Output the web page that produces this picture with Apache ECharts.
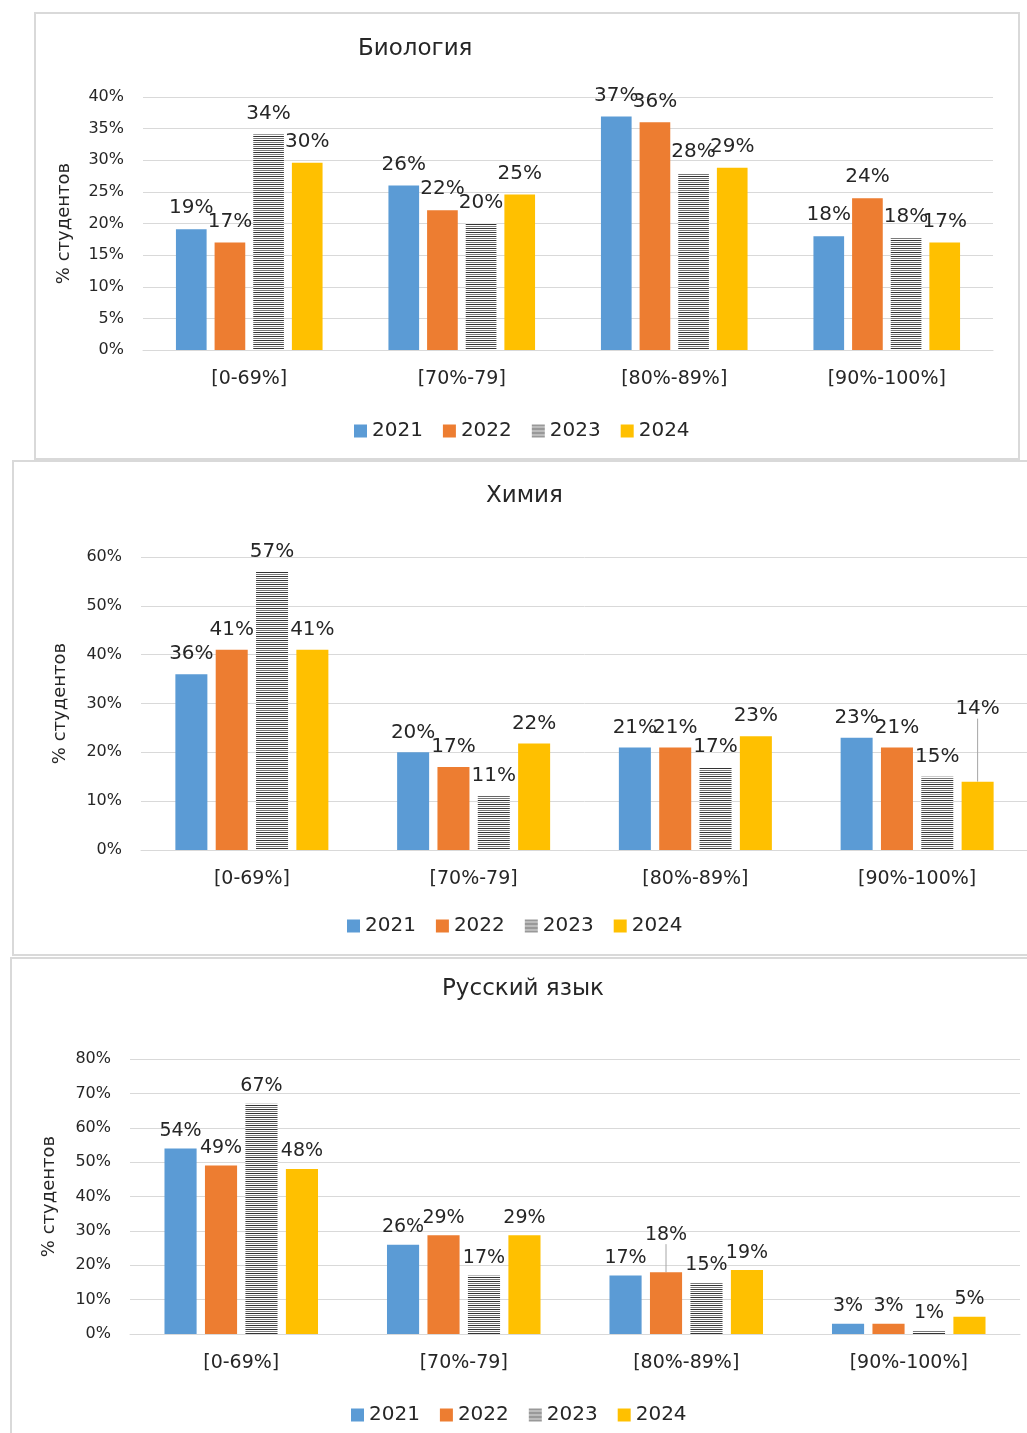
<!DOCTYPE html>
<html>
<head>
<meta charset="utf-8">
<script src="https://cdn.jsdelivr.net/npm/echarts@6/dist/echarts.min.js"></script>
<style>
  html, body { margin: 0; padding: 0; background: #fff; }
  body { width: 1027px; height: 1433px; position: relative; overflow: hidden; }
  .box { position: absolute; outline: 2px solid #d9d9d9; outline-offset: -2px; }
</style>
</head>
<body>
<div id="bio" class="box" style="left:34px; top:12px; width:986px; height:448px;"></div>
<div id="chem" class="box" style="left:12px; top:460px; width:1030px; height:496px;"></div>
<div id="rus" class="box" style="left:10px; top:957px; width:1030px; height:490px;"></div>
<script>
// данные
var years = ['2021', '2022', '2023', '2024'];
var categories = ['[0-69%]', '[70%-79]', '[80%-89%]', '[90%-100%]'];

// Биология
var bio2021 = [19.1, 26, 36.9, 18];
var bio2022 = [17, 22.1, 36, 24];
var bio2023 = [34.1, 20, 28, 17.8];
var bio2024 = [29.6, 24.6, 28.8, 17];

// Химия
var chem2021 = [36, 20, 21, 23];
var chem2022 = [41, 17, 21, 21];
var chem2023 = [57, 11, 17, 15];
var chem2024 = [41, 21.8, 23.3, 14];

// Русский язык
var rus2021 = [54, 26, 17, 3];
var rus2022 = [49, 28.7, 18, 3];
var rus2023 = [67, 17, 15, 1];
var rus2024 = [48, 28.7, 18.6, 5];

var colors = ['#5B9BD5', '#ED7D31', null, '#FFC000'];
var font = 'DejaVu Sans';
var textColor = '#262626';

// штриховка для 2023
function stripes() {
  var c = document.createElement('canvas');
  c.width = 4; c.height = 4;
  var ctx = c.getContext('2d');
  ctx.fillStyle = '#fff';
  ctx.fillRect(0, 0, 4, 4);
  ctx.fillStyle = '#333';
  ctx.fillRect(0, 0, 4, 1);
  ctx.fillStyle = '#7a7a7a';
  ctx.fillRect(0, 2, 4, 1);
  return { image: c, repeat: 'repeat' };
}
colors[2] = stripes();

function makeOption(cfg) {
  var series = cfg.data.map(function (vals, i) {
    var m = cfg.moved[i];
    // подпись, вынесенная вверх с линией-выноской
    var items = vals.map(function (v, k) {
      if (m && m[0] === k) {
        return { value: v, labelLine: { show: true, lineStyle: { color: '#a6a6a6', width: 1 } } };
      }
      return v;
    });
    return {
      name: years[i],
      type: 'bar',
      data: items,
      barGap: '26%',
      barCategoryGap: '31%',
      itemStyle: { color: colors[i] },
      label: {
        show: true,
        position: 'top',
        distance: cfg.labelDist,
        fontFamily: font,
        fontSize: cfg.labelSize,
        color: textColor,
        formatter: function (p) { return Math.round(p.value) + '%'; }
      },
      labelLine: { show: false },
      labelLayout: function (p) {
        if (m && m[0] === p.dataIndex) return { dy: m[1] };
        return {};
      }
    };
  });
  return {
    animation: false,
    title: {
      text: cfg.title,
      left: cfg.titleLeft,
      top: cfg.titleTop,
      textStyle: { fontFamily: font, fontSize: 23, fontWeight: 'normal', color: textColor }
    },
    legend: {
      data: years,
      left: cfg.legendLeft,
      top: cfg.legendTop,
      icon: 'rect',
      itemWidth: 13,
      itemHeight: 13,
      itemGap: 20,
      textStyle: { fontFamily: font, fontSize: 20, color: textColor }
    },
    grid: cfg.grid,
    xAxis: {
      type: 'category',
      data: categories,
      axisLine: { lineStyle: { color: '#d9d9d9' } },
      axisTick: { show: false },
      axisLabel: { fontFamily: font, fontSize: 19, color: textColor, margin: 20 }
    },
    yAxis: {
      type: 'value',
      min: 0,
      max: cfg.max,
      interval: cfg.step,
      name: '% студентов',
      nameLocation: 'middle',
      nameRotate: 90,
      nameGap: cfg.nameGap,
      nameTextStyle: { fontFamily: font, fontSize: 18, color: textColor },
      axisLine: { show: false },
      axisTick: { show: false },
      splitLine: { lineStyle: { color: '#d9d9d9' } },
      axisLabel: {
        fontFamily: font, fontSize: 16, color: textColor, margin: 19,
        formatter: function (v) { return v + '%'; }
      }
    },
    series: series
  };
}

echarts.init(document.getElementById('bio')).setOption(makeOption({
  title: 'Биология', titleLeft: 319, titleTop: 21,
  data: [bio2021, bio2022, bio2023, bio2024],
  max: 40, step: 5, labelSize: 20, labelDist: 11, nameGap: 70,
  grid: { left: 109, right: 27, top: 85, bottom: 110 },
  legendLeft: 315, legendTop: 404,
  moved: []
}));

echarts.init(document.getElementById('chem')).setOption(makeOption({
  title: 'Химия', titleLeft: 469, titleTop: 20,
  data: [chem2021, chem2022, chem2023, chem2024],
  max: 60, step: 10, labelSize: 20, labelDist: 10, nameGap: 72,
  grid: { left: 129, right: 14, top: 97, bottom: 106 },
  legendLeft: 330, legendTop: 451,
  moved: [null, null, null, [3, -53]]
}));

echarts.init(document.getElementById('rus')).setOption(makeOption({
  title: 'Русский язык', titleLeft: 427, titleTop: 16,
  data: [rus2021, rus2022, rus2023, rus2024],
  max: 80, step: 10, labelSize: 19, labelDist: 8, nameGap: 72,
  grid: { left: 120, right: 20, top: 102, bottom: 113 },
  legendLeft: 336, legendTop: 443,
  moved: [null, [2, -20], null, null]
}));
</script>
</body>
</html>
